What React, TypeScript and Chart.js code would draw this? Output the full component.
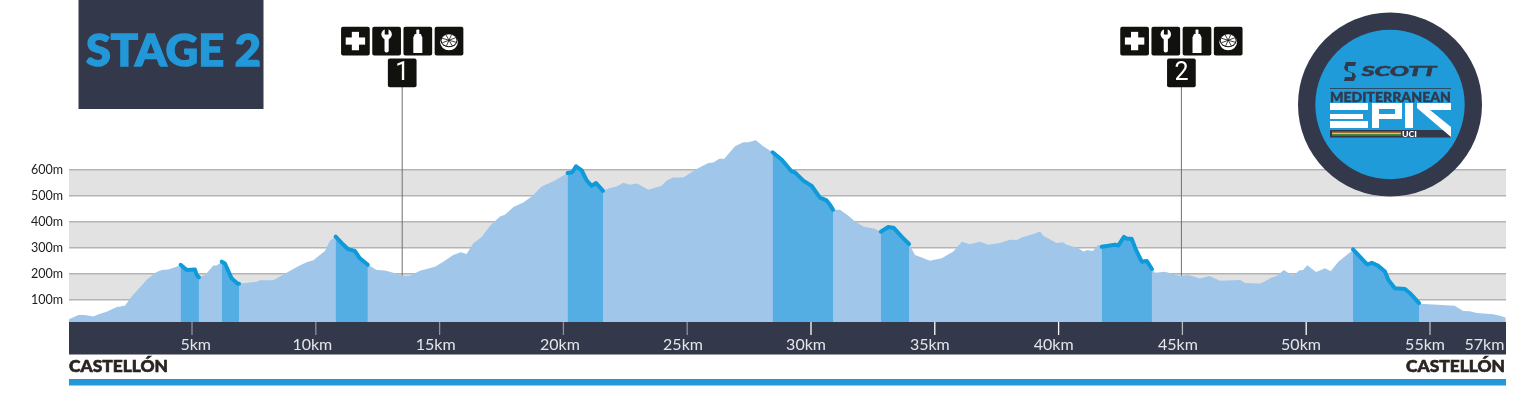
import React, { useEffect, useRef } from "react";
import { Chart, registerables } from "chart.js";

Chart.register(...registerables);

const kmValues = [
  0.03, 0.41, 0.68, 1.01, 1.26, 1.55, 1.96, 2.29, 2.56, 2.83, 3.19, 3.57, 3.78, 4.04, 4.52, 4.54, 4.79, 5.12, 5.19, 5.28,
  5.53, 5.86, 6.0, 6.2, 6.33, 6.6, 6.85, 6.9, 6.94, 7.61, 7.75, 8.28, 8.55, 8.82, 9.29, 9.63, 9.9, 10.37, 10.57, 10.8,
  11.05, 11.31, 11.58, 11.78, 12.1, 12.46, 12.79, 13.13, 13.53, 13.8, 14.21, 14.81, 15.15, 15.55, 15.85, 16.09, 16.36, 16.7, 17.04, 17.44,
  17.64, 17.98, 18.38, 18.72, 19.12, 19.66, 19.93, 20.17, 20.36, 20.51, 20.74, 20.94, 21.14, 21.32, 21.6, 21.88, 22.15, 22.42, 22.69, 22.98,
  23.43, 23.97, 24.17, 24.44, 24.84, 25.38, 25.85, 26.05, 26.32, 26.49, 26.93, 27.27, 27.47, 27.77, 28.07, 28.45, 28.82, 29.22, 29.35, 29.69,
  30.03, 30.36, 30.63, 30.77, 30.89, 31.17, 31.51, 31.78, 32.11, 32.58, 32.82, 33.12, 33.35, 33.66, 33.96, 34.2, 34.47, 34.8, 35.28, 35.75,
  36.09, 36.22, 36.39, 36.83, 37.16, 37.63, 38.04, 38.31, 38.51, 38.98, 39.25, 39.38, 39.92, 40.17, 40.33, 40.8, 41.0, 41.16, 41.38, 41.6,
  41.74, 42.01, 42.28, 42.41, 42.64, 42.77, 42.95, 43.13, 43.36, 43.56, 43.77, 43.89, 44.3, 44.9, 45.24, 45.71, 46.09, 46.52, 47.33, 47.53,
  48.13, 48.3, 48.61, 48.81, 49.1, 49.42, 49.52, 49.72, 49.88, 50.04, 50.4, 50.76, 50.99, 51.3, 51.86, 51.89, 52.47, 52.65, 52.91, 53.18,
  53.32, 53.58, 53.99, 54.19, 54.56, 54.6, 56.0, 56.34, 56.61, 56.89, 57.56, 57.83, 58.06,
];

const elevations = [
  26, 42, 42, 37, 46, 55, 73, 78, 113, 141, 180, 207, 215, 217, 232, 235, 215, 217, 196, 187,
  196, 232, 232, 247, 240, 183, 162, 162, 163, 170, 176, 176, 190, 205, 230, 245, 253, 288, 327, 343,
  318, 295, 288, 260, 235, 215, 213, 205, 192, 193, 212, 228, 247, 273, 283, 277, 318, 342, 385, 420,
  427, 457, 474, 497, 536, 559, 574, 587, 590, 613, 597, 559, 538, 549, 519, 530, 536, 550, 542, 547,
  523, 538, 559, 570, 570, 603, 626, 628, 643, 641, 690, 705, 705, 713, 690, 667, 638, 593, 590, 558,
  538, 493, 482, 465, 446, 446, 423, 401, 382, 373, 362, 380, 376, 343, 315, 273, 263, 251, 260, 286,
  324, 320, 314, 324, 312, 319, 331, 330, 340, 353, 363, 347, 319, 322, 312, 299, 286, 292, 288, 312,
  304, 308, 312, 309, 342, 335, 335, 291, 247, 250, 219, 205, 208, 192, 196, 183, 192, 174, 177, 165,
  163, 170, 186, 192, 215, 195, 197, 213, 215, 233, 207, 222, 210, 247, 290, 294, 236, 243, 231, 209,
  177, 145, 142, 126, 88, 86, 78, 58, 57, 50, 45, 40, 33,
];

const climbRanges = [
  [4.54, 5.28],
  [6.2, 6.9],
  [10.8, 12.1],
  [20.17, 21.6],
  [28.45, 30.89],
  [32.82, 33.96],
  [41.74, 43.77],
  [51.89, 54.56],
];

const yTickValues = [100, 200, 300, 400, 500, 600];
const xTickLabels = ["5km", "10km", "15km", "20km", "25km", "30km", "35km", "40km", "45km", "50km", "55km", "57km"];
const xTickLabelKm = [5.15, 9.86, 14.84, 19.86, 24.83, 29.8, 34.8, 39.8, 44.82, 49.79, 54.8, 57.2];
const xMarkKm = [5, 10, 15, 20, 25, 30, 35, 40, 45, 50, 55];
const xMarkColors = ["#8f919c", "#8f919c", "#8f919c", "#8f919c", "#8f919c", "#ffffff", "#ffffff", "#ffffff", "#b9bac1", "#ffffff", "#b9bac1"];
const aidStationKm = [13.49, 44.96];
const aidStationNames = ["1", "2"];

const NAVY = "#33394b";
const BLUE = "#2298d8";
const LIGHT = "#a0c6ea";
const DARK = "#55aee3";
const LINE = "#0f9ad9";
const BOX = "#11120e";

const profile = kmValues.map((x, i) => ({ x, y: elevations[i] }));

function box(ctx: CanvasRenderingContext2D, x: number, y: number, s: number) {
  ctx.fillStyle = BOX;
  ctx.beginPath();
  ctx.roundRect(x, y, s, s, 2);
  ctx.fill();
}

function drawIcons(ctx: CanvasRenderingContext2D, cx: number) {
  const top = 26.7;
  const s = 28.7;
  const step = 31.2;
  const cy = top + s / 2;
  const centers = [-1.5, -0.5, 0.5, 1.5].map((k) => cx + k * step);
  centers.forEach((c) => box(ctx, c - s / 2, top, s));
  ctx.fillStyle = "#fff";
  // cross
  let c = centers[0];
  ctx.fillRect(c - 9.7, cy - 3.6, 19.4, 7.2);
  ctx.fillRect(c - 3.6, cy - 9.2, 7.2, 18.4);
  // wrench
  c = centers[1];
  ctx.beginPath();
  ctx.arc(c, cy - 6.8, 5.2, 0, Math.PI * 2);
  ctx.fill();
  ctx.fillStyle = BOX;
  ctx.fillRect(c - 1.9, cy - 13, 3.8, 6.5);
  ctx.fillStyle = "#fff";
  ctx.beginPath();
  ctx.roundRect(c - 2.1, cy - 3.5, 4.2, 15, 2);
  ctx.fill();
  // bottle
  c = centers[2];
  ctx.beginPath();
  ctx.roundRect(c - 1.5, cy - 11.5, 3, 5, 1);
  ctx.fill();
  ctx.beginPath();
  ctx.moveTo(c - 3, cy - 7);
  ctx.lineTo(c + 3, cy - 7);
  ctx.lineTo(c + 4.5, cy - 3.5);
  ctx.lineTo(c + 4.5, cy + 12);
  ctx.lineTo(c - 4.5, cy + 12);
  ctx.lineTo(c - 4.5, cy - 3.5);
  ctx.closePath();
  ctx.fill();
  // orange slice
  c = centers[3];
  ctx.beginPath();
  ctx.ellipse(c, cy + 1.2, 8.8, 8, 0, 0, Math.PI * 2);
  ctx.fill();
  ctx.fillStyle = BOX;
  ctx.beginPath();
  ctx.ellipse(c, cy - 0.6, 8.4, 6.8, 0, 0, Math.PI * 2);
  ctx.fill();
  ctx.fillStyle = "#fff";
  ctx.beginPath();
  ctx.ellipse(c, cy - 0.8, 7.4, 6, 0, 0, Math.PI * 2);
  ctx.fill();
  ctx.strokeStyle = BOX;
  ctx.lineWidth = 0.8;
  for (let i = 0; i < 8; i++) {
    const a = (i * Math.PI) / 4 + 0.35;
    ctx.beginPath();
    ctx.moveTo(c, cy - 0.8);
    ctx.lineTo(c + Math.cos(a) * 7.4, cy - 0.8 + Math.sin(a) * 6);
    ctx.stroke();
  }
}

const decorPlugin = {
  id: "decor",
  beforeDraw(chart: any) {
    const { ctx, chartArea, scales } = chart;
    const { left, right, bottom } = chartArea;
    const y = scales.y;
    ctx.save();
    ctx.fillStyle = "#e2e2e2";
    for (const [a, b] of [[500, 600], [300, 400], [100, 200]]) {
      const top = y.getPixelForValue(b);
      ctx.fillRect(left, top, right - left, y.getPixelForValue(a) - top);
    }
    ctx.fillStyle = NAVY;
    ctx.fillRect(left, bottom, right - left, 32.5);
    ctx.restore();
  },
  beforeDatasetsDraw(chart: any) {
    const { ctx, chartArea, scales } = chart;
    ctx.save();
    ctx.strokeStyle = "#716f72";
    ctx.lineWidth = 1;
    aidStationKm.forEach((km) => {
      const x = scales.x.getPixelForValue(km);
      ctx.beginPath();
      ctx.moveTo(x, 87);
      ctx.lineTo(x, chartArea.bottom);
      ctx.stroke();
    });
    ctx.restore();
  },
  afterDraw(chart: any) {
    const { ctx, chartArea, scales } = chart;
    ctx.save();
    ctx.lineWidth = 1.3;
    xMarkKm.forEach((km, i) => {
      const x = scales.x.getPixelForValue(km);
      ctx.strokeStyle = xMarkColors[i];
      ctx.beginPath();
      ctx.moveTo(x, chartArea.bottom);
      ctx.lineTo(x, chartArea.bottom + 13);
      ctx.stroke();
    });
    aidStationKm.forEach((km, i) => {
      const x = scales.x.getPixelForValue(km);
      drawIcons(ctx, x);
      box(ctx, x - 14.35, 58.6, 28.7);
      ctx.fillStyle = "#fff";
      ctx.font = "25px Roboto";
      ctx.textAlign = "center";
      ctx.textBaseline = "middle";
      ctx.fillText(aidStationNames[i], x, 74);
    });
    ctx.restore();
  },
};

export default function App() {
  const ref = useRef<HTMLCanvasElement>(null);

  useEffect(() => {
    const climbSets = climbRanges.map(([a, b]) => ({
      data: profile.filter((p) => p.x >= a && p.x <= b),
      borderColor: LINE,
      backgroundColor: DARK,
      borderWidth: 4,
      borderCapStyle: "round" as const,
      borderJoinStyle: "round" as const,
      pointRadius: 0,
      fill: "origin",
      tension: 0,
    }));
    const chart = new Chart(ref.current!, {
      type: "line",
      data: {
        datasets: [
          ...climbSets,
          { data: profile, borderWidth: 0, borderColor: LIGHT, backgroundColor: LIGHT, pointRadius: 0, fill: "origin", tension: 0 },
        ],
      },
      options: {
        animation: false,
        responsive: false,
        devicePixelRatio: 1,
        layout: { padding: { top: 118, right: 30, left: 0, bottom: 0 } },
        plugins: { legend: { display: false }, tooltip: { enabled: false }, title: { display: false } },
        scales: {
          x: {
            type: "linear",
            min: 0.032,
            max: 58.07,
            afterFit: (s: any) => { s.height = 92; },
            afterBuildTicks: (s: any) => { s.ticks = xTickLabelKm.map((value) => ({ value })); },
            grid: { display: false },
            border: { display: false },
            ticks: {
              autoSkip: false,
              maxRotation: 0,
              padding: 5,
              color: "#e4e5e9",
              font: { family: "Lato", size: 16 },
              callback: (_v: any, i: number) => xTickLabels[i],
            },
          },
          y: {
            min: 15.6,
            max: 798.4,
            afterFit: (s: any) => { s.width = 69; },
            afterBuildTicks: (s: any) => { s.ticks = yTickValues.map((value) => ({ value })); },
            grid: { color: "#b4b4b4", lineWidth: 1.5, drawTicks: false },
            border: { display: false },
            ticks: {
              padding: 6,
              color: "#1c1c1c",
              font: { family: "Lato", size: 12.5 },
              callback: (v: any) => `${v}m`,
            },
          },
        },
      },
      plugins: [decorPlugin],
    } as any);
    return () => chart.destroy();
  }, []);

  const logoFont = "Lato, sans-serif";
  return (
    <div style={{ position: "absolute", left: 0, top: 0, width: 1536, height: 414, overflow: "hidden", background: "#fff" }}>
      <canvas ref={ref} width={1536} height={414} style={{ display: "block", position: "absolute", left: 0, top: 0 }} />
      <svg width={1536} height={414} style={{ position: "absolute", left: 0, top: 0, pointerEvents: "none" }}>
        <rect x={78.5} y={-1} width={185} height={110} fill={NAVY} />
        <text x={86} y={66} fontFamily={logoFont} fontWeight={900} fontSize={44} fill={BLUE} stroke={BLUE} strokeWidth={1.5} textLength={175} lengthAdjust="spacingAndGlyphs">STAGE 2</text>

        <text x={69} y={372} fontFamily={logoFont} fontWeight={900} fontSize={16.5} fill="#2a2522" stroke="#2a2522" strokeWidth={0.6} textLength={99} lengthAdjust="spacingAndGlyphs">CASTELLÓN</text>
        <text x={1406} y={372} fontFamily={logoFont} fontWeight={900} fontSize={16.5} fill="#2a2522" stroke="#2a2522" strokeWidth={0.6} textLength={99} lengthAdjust="spacingAndGlyphs">CASTELLÓN</text>
        <rect x={69} y={379} width={1437} height={6.5} fill={BLUE} />

        <circle cx={1390} cy={104.5} r={92} fill={NAVY} />
        <circle cx={1390} cy={104.5} r={74.7} fill="#1f9bda" />
        <path d="M1346 62h10l-1 4h-7v5l6 2 2 3-2 5h-10l1-4h7v-4l-6-2-2-3z" fill={NAVY} />
        <text x={1361.5} y={76} fontFamily={logoFont} fontWeight={900} fontStyle="italic" fontSize={13} fill={NAVY} stroke={NAVY} strokeWidth={0.5} textLength={75} lengthAdjust="spacingAndGlyphs">SCOTT</text>
        <rect x={1330} y={88} width={121} height={0.8} fill={NAVY} />
        <text x={1330} y={101.7} fontFamily={logoFont} fontWeight={900} fontSize={13.4} fill={NAVY} stroke={NAVY} strokeWidth={0.4} textLength={121} lengthAdjust="spacingAndGlyphs">MEDITERRANEAN</text>
        <rect x={1330} y={130} width={121} height={7.5} fill={NAVY} />
        <rect x={1332} y={131.2} width={69} height={1.2} fill="#d9262c" />
        <rect x={1332} y={132.6} width={69} height={1.4} fill="#f2c81e" />
        <rect x={1332} y={134.2} width={69} height={1.4} fill="#4a9a3d" />
        <text x={1402} y={137} fontFamily={logoFont} fontWeight={900} fontSize={8} fill="#fff" textLength={15} lengthAdjust="spacingAndGlyphs">UCI</text>
        <g fill="#fff">
          <path d="M1330 103h38v7h-38zM1330 114h33v5h-33zM1330 121h38v7h-38z" />
          <path fillRule="evenodd" d="M1372 103h30v16h-23v9h-7zM1379 109v5h16v-5z" />
          <rect x={1405} y={103} width={8} height={25} />
          <path d="M1417 103h34v7h-21l21 17v10l-34-29z" />
        </g>
      </svg>
    </div>
  );
}
